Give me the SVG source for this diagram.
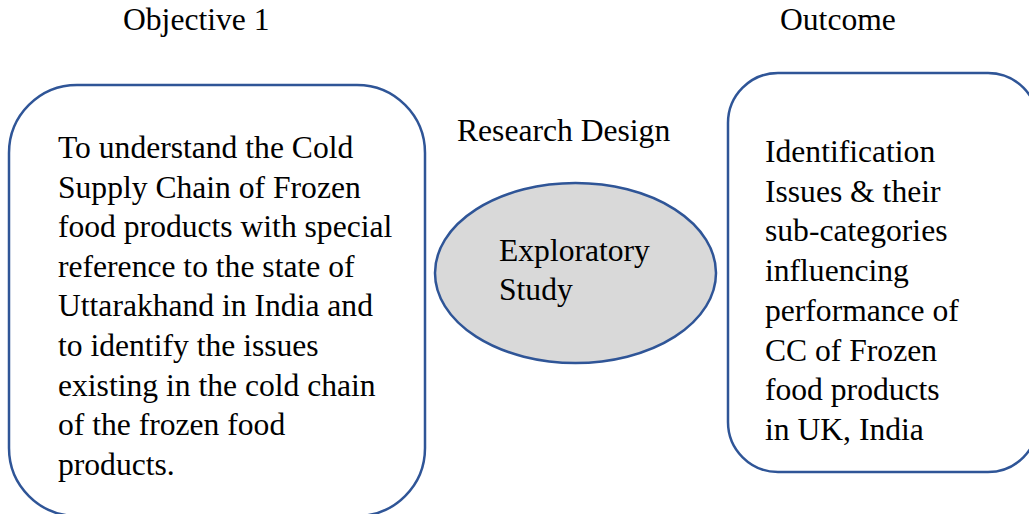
<svg xmlns="http://www.w3.org/2000/svg" width="1029" height="514" viewBox="0 0 1029 514">
  <style>
    .box { fill: #fff; stroke: #2f5597; stroke-width: 2.5; }
    .oval { fill: #d9d9d9; stroke: #2f5597; stroke-width: 2.5; }
  </style>
  <rect width="1029" height="514" fill="#fff"/>

  <g id="heading-objective">
    <text x="123" y="30" font-size="31.6" style="font-family:'Liberation Serif'">Objective 1</text>
  </g>
  <g id="heading-outcome">
    <text x="780" y="30" font-size="31.6" style="font-family:'Liberation Serif'">Outcome</text>
  </g>
  <g id="heading-design">
    <text x="457" y="141" font-size="31.6" style="font-family:'Liberation Serif'">Research Design</text>
  </g>

  <g id="objective">
    <rect class="box" x="9" y="85" width="416" height="431" rx="68" ry="68"/>
    <text font-size="31.6" style="font-family:'Liberation Serif'">
      <tspan x="58" y="158">To understand the Cold</tspan>
      <tspan x="58" y="197.6">Supply Chain of Frozen</tspan>
      <tspan x="58" y="237.2">food products with special</tspan>
      <tspan x="58" y="276.8">reference to the state of</tspan>
      <tspan x="58" y="316.4">Uttarakhand in India and</tspan>
      <tspan x="58" y="356">to identify the issues</tspan>
      <tspan x="58" y="395.6">existing in the cold chain</tspan>
      <tspan x="58" y="435.2">of the frozen food</tspan>
      <tspan x="58" y="474.8">products.</tspan>
    </text>
  </g>

  <g id="design">
    <ellipse class="oval" cx="575.5" cy="273" rx="140.5" ry="90"/>
    <text font-size="31.6" style="font-family:'Liberation Serif'">
      <tspan x="499" y="261">Exploratory</tspan>
      <tspan x="499" y="300">Study</tspan>
    </text>
  </g>

  <g id="outcome">
    <rect class="box" x="728" y="73" width="310" height="399" rx="50" ry="50"/>
    <text font-size="31.6" style="font-family:'Liberation Serif'">
      <tspan x="765" y="162">Identification</tspan>
      <tspan x="765" y="201.7">Issues &amp; their</tspan>
      <tspan x="765" y="241.4">sub-categories</tspan>
      <tspan x="765" y="281.1">influencing</tspan>
      <tspan x="765" y="320.8">performance of</tspan>
      <tspan x="765" y="360.5">CC of Frozen</tspan>
      <tspan x="765" y="400.2">food products</tspan>
      <tspan x="765" y="439.9">in UK, India</tspan>
    </text>
  </g>

  <g id="connectors"></g>
</svg>
